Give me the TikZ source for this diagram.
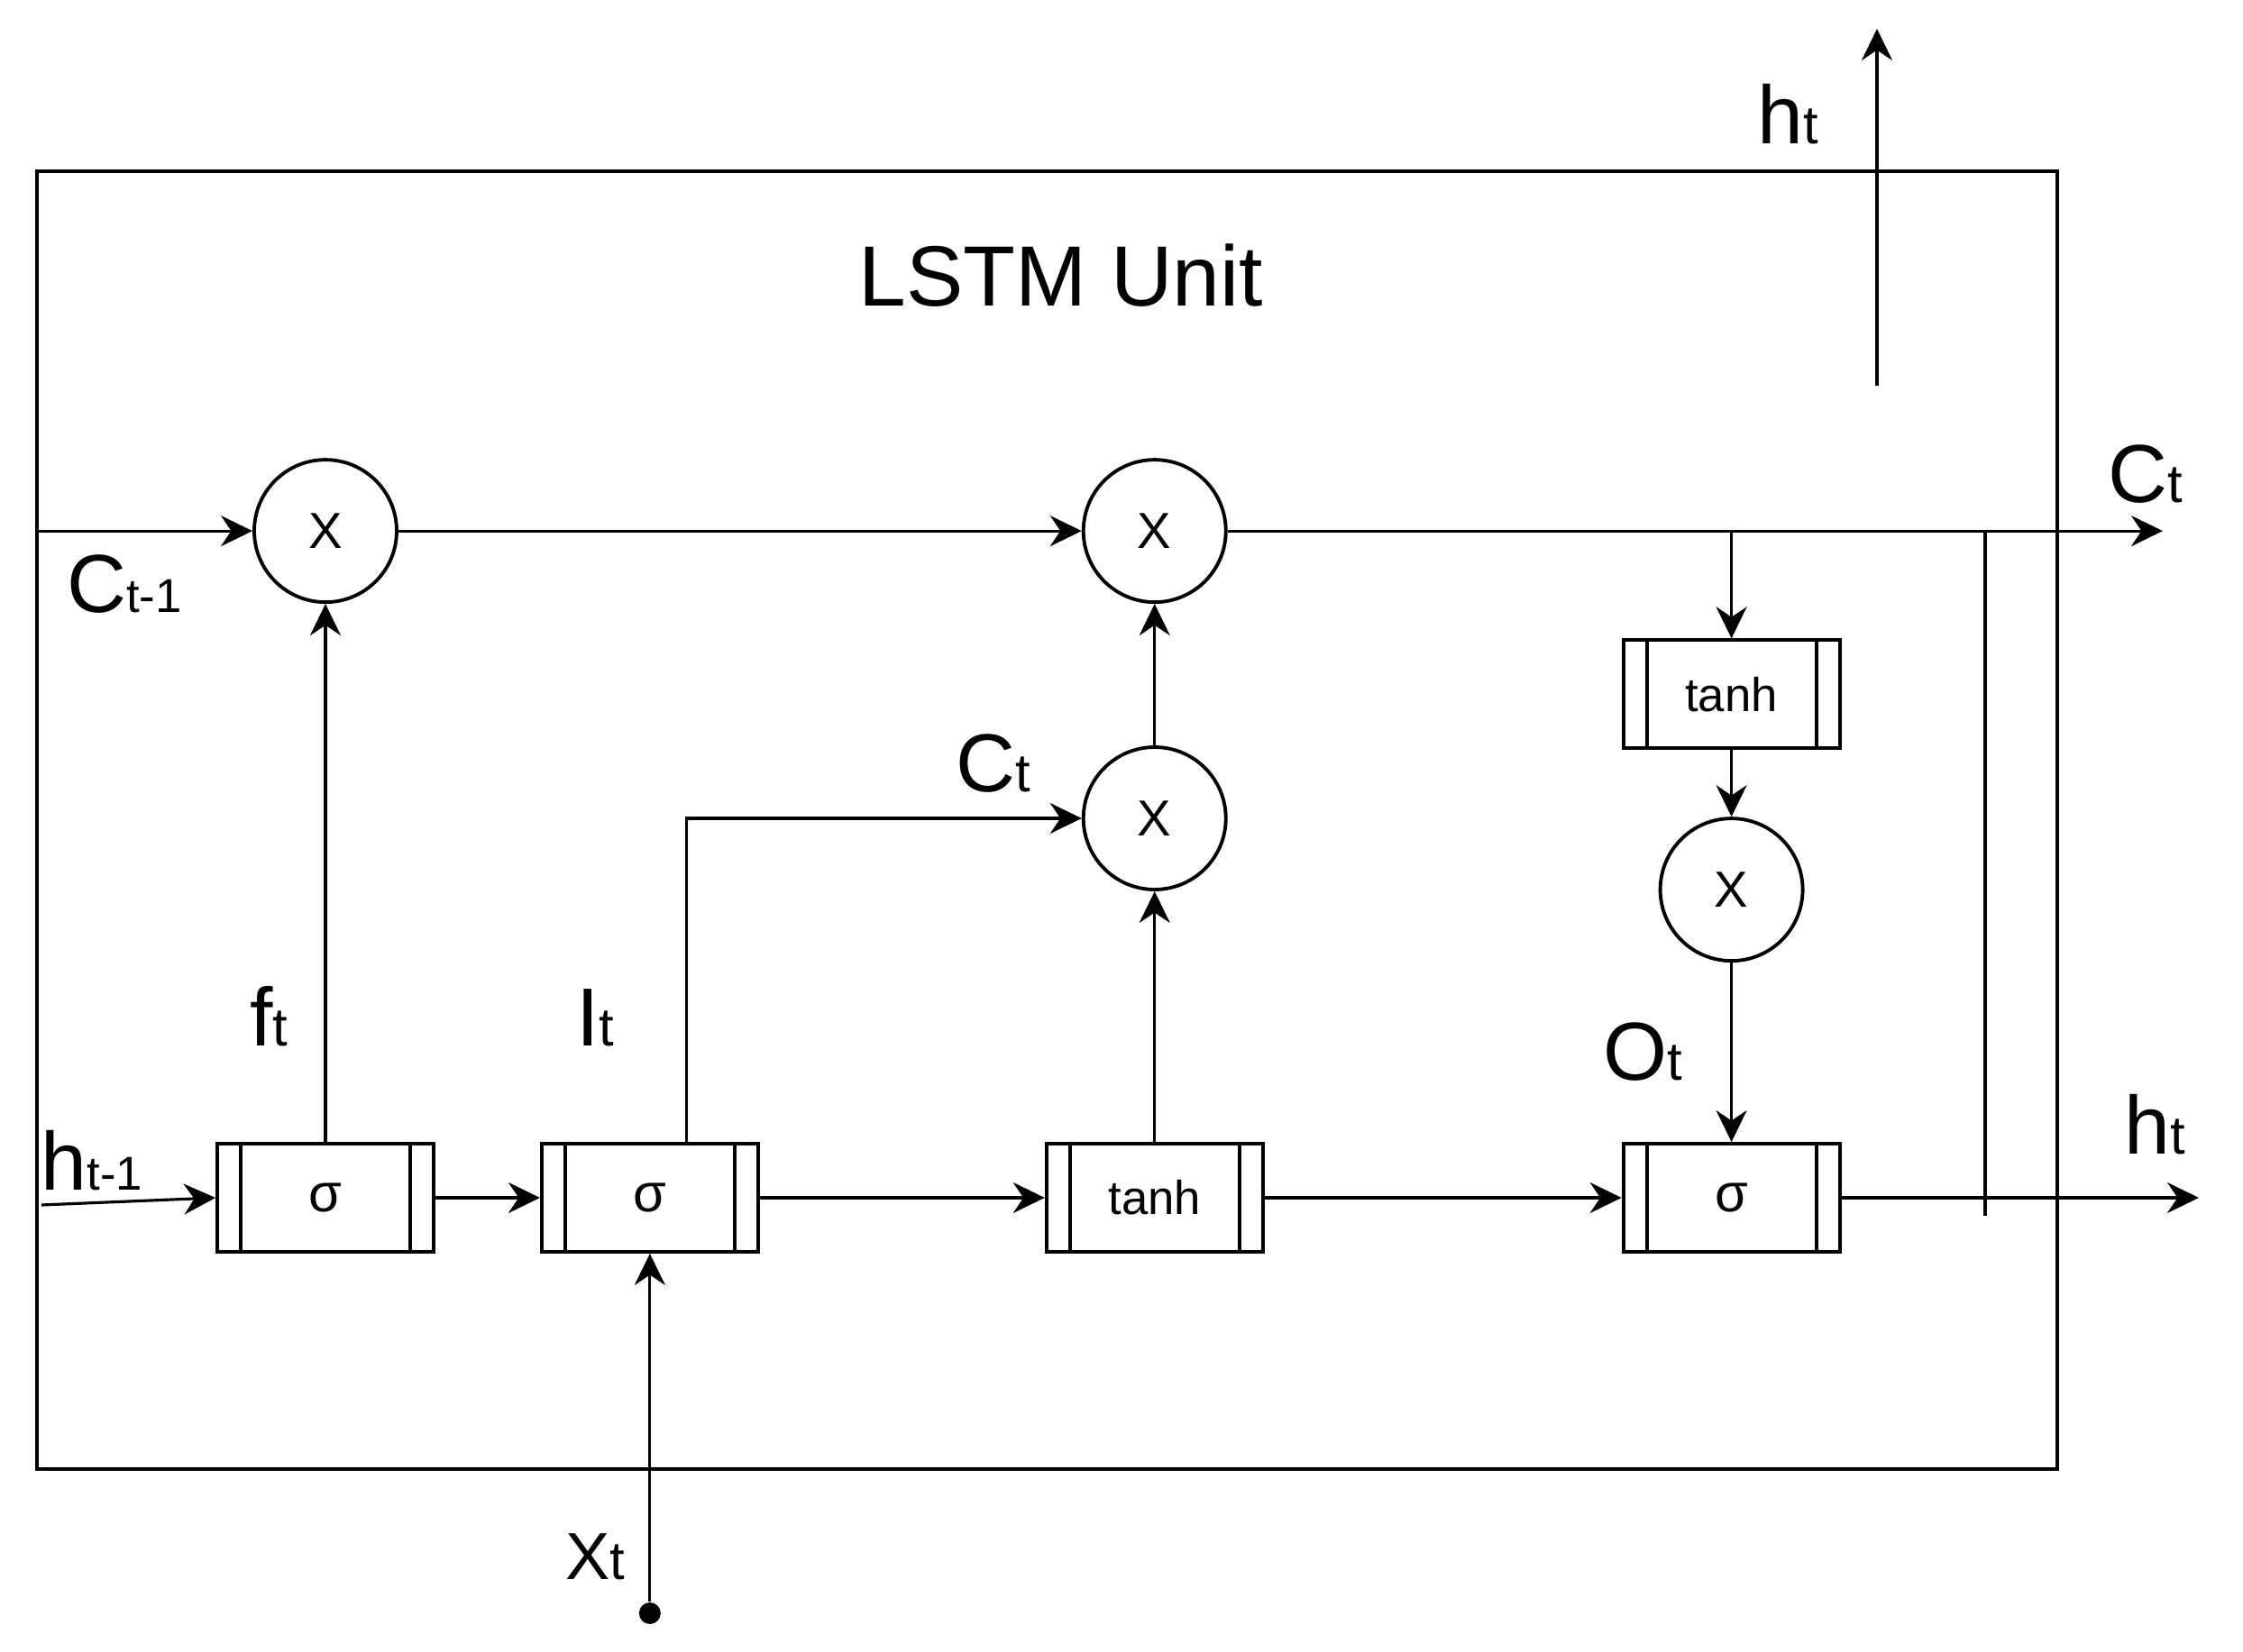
\documentclass[tikz,border=0pt]{standalone}
\usepackage{fontspec}
\setmainfont{Liberation Sans}
\usetikzlibrary{arrows.meta,positioning}
\newcommand{\sublbl}[2]{{\fontsize{26}{28}\selectfont #1}{\fontsize{17}{20}\selectfont #2}}
\newcommand{\sublblm}[2]{{\fontsize{26}{28}\selectfont #1}{\fontsize{15}{18}\selectfont #2}}

\begin{document}
\begin{tikzpicture}[
  gate/.style={draw, line width=1.1pt, minimum width=24mm, minimum height=12mm, inner sep=0pt,
    font=\fontsize{17}{18}\selectfont,
    path picture={
      \draw[line width=1.1pt] ([xshift=2.6mm]path picture bounding box.north west) -- ([xshift=2.6mm]path picture bounding box.south west);
      \draw[line width=1.1pt] ([xshift=-2.6mm]path picture bounding box.north east) -- ([xshift=-2.6mm]path picture bounding box.south east);}},
  mult/.style={draw, circle, line width=1.1pt, minimum size=15.8mm, inner sep=0pt, font=\fontsize{16}{16}\selectfont},
  lbl/.style={anchor=base, inner sep=0pt},
  flow/.style={-{Stealth[length=3.5mm, width=3.4mm]}, line width=0.9pt},
  wire/.style={line width=0.9pt}]
\useasboundingbox (0,0) rectangle (24.88,18.32);
\node[draw, line width=1.1pt, minimum width=22.41cm, minimum height=14.40cm] (unit) at (11.615,9.22) {};
\node[font=\fontsize{27}{30}\selectfont] (title) at (11.77,15.26) {LSTM Unit};
% gate row
\node[gate] (s1) at (3.61,5.03) {σ};
\node[gate, right=1.16cm of s1] (s2) {σ};
\node[gate, right=3.16cm of s2, font=\fontsize{15}{16}\selectfont] (th2) {tanh};
\node[gate, right=3.96cm of th2] (s4) {σ};
% products
\node[mult, above=5.97cm of s1] (c1) {X};
\node[mult] (c2) at (th2 |- c1) {X};
\node[mult, below=1.57cm of c2] (c3) {X};
\node[mult, above=1.99cm of s4] (c4) {X};
\node[gate, above=0.74cm of c4, font=\fontsize{15}{16}\selectfont] (th1) {tanh};
% free ends
\coordinate (cout) at (c2 -| 23.99,0);
\coordinate (tap) at (c2 -| 22.02,0);
\coordinate (hin) at (0.46,4.95);
\coordinate (hout) at (s4 -| 24.39,0);
\coordinate (hbot) at (20.82,14.04);
\coordinate (htop) at (20.82,18.00);
\node[circle, fill, inner sep=0pt, minimum size=2.4mm] (xdot) at (s2 |- 0,0.42) {};
% cell state
\draw[flow] (unit.west |- c1) -- (c1);
\draw[flow] (c1) -- (c2);
\draw[flow] (c2) -- (cout);
\draw[flow] (th1 |- c2) -- (th1);
\draw[flow] (th1) -- (c4);
\draw[flow] (c4) -- (s4);
\draw[wire] (tap) -- ++(0,-7.60);
\draw[flow] (hbot) -- (htop);
% hidden state
\draw[flow] (hin) -- (s1.west);
\draw[flow] (s1) -- (s2);
\draw[flow] (s2) -- (th2);
\draw[flow] (th2) -- (s4);
\draw[flow] (s4) -- (hout);
\draw[flow] (s1) -- (c1);
\draw[flow] ([xshift=4.1mm]s2.north) |- (c3);
\draw[flow] (th2) -- (c3);
\draw[flow] (c3) -- (c2);
\draw[flow] (xdot) -- (s2);
% labels
\node[lbl] (lht) at (19.83,16.72) {\sublbl{h}{t}};
\node[lbl] (lct) at (23.80,12.74) {\sublbl{C}{t}};
\node[lbl] (lcp) at (1.38,11.52) {\sublblm{C}{t-1}};
\node[lbl] (lhp) at (1.02,5.12) {\sublblm{h}{t-1}};
\node[lbl] (lft) at (2.98,6.72) {\sublbl{f}{t}};
\node[lbl] (lit) at (6.60,6.72) {\sublbl{I}{t}};
\node[lbl] (lcm) at (11.02,9.53) {\sublbl{C}{t}};
\node[lbl] (lot) at (18.22,6.34) {\sublbl{O}{t}};
\node[lbl] (lho) at (23.90,5.52) {\sublbl{h}{t}};
\node[lbl] (lxt) at (6.60,0.80) {{\fontsize{21}{24}\selectfont X}{\fontsize{17}{20}\selectfont t}};
\end{tikzpicture}
\end{document}
